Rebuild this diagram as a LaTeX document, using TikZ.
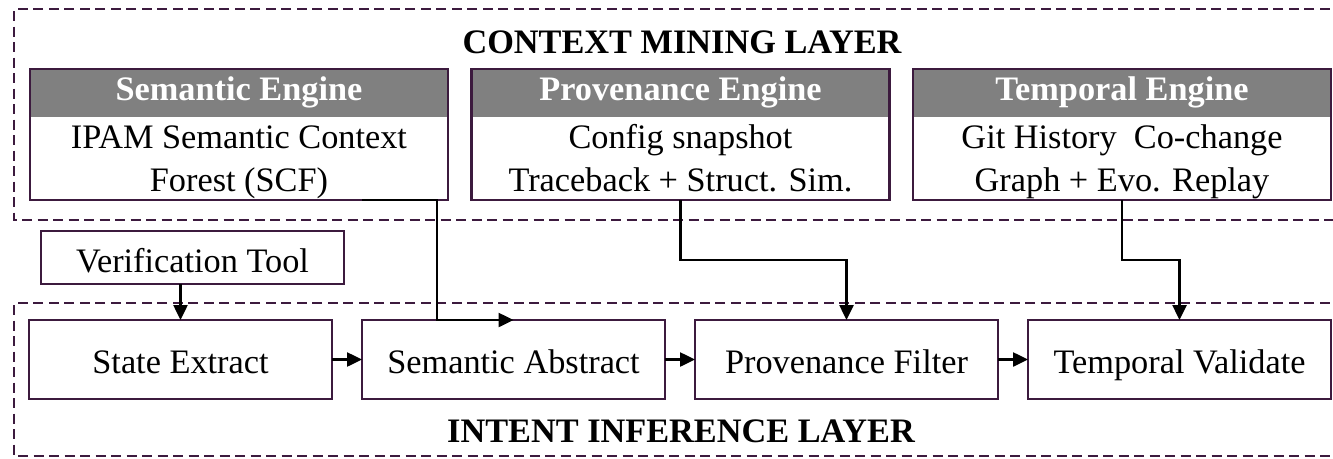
\documentclass[tikz,border=0pt]{standalone}
\usepackage{fontspec}
\setmainfont{Liberation Serif}
\usetikzlibrary{arrows.meta,fit}
\definecolor{frame}{RGB}{60,26,62}
\definecolor{headgray}{RGB}{128,128,128}

\begin{document}
\begin{tikzpicture}[x=1pt,y=-1pt,
  every node/.style={inner sep=0pt,outer sep=0pt},
  txt/.style={font=\fontsize{34.3}{43}\selectfont},
  btxt/.style={font=\fontsize{34.3}{43}\selectfont\bfseries},
  layer/.style={draw=frame,line width=2.6pt,dash pattern=on 10pt off 5.5pt},
  enghead/.style={btxt,fill=headgray,text=white,minimum width=418pt,minimum height=48pt,
    text height=23pt,text depth=8pt},
  engbody/.style={minimum width=418pt,minimum height=83pt},
  engtext/.style={txt,align=center},
  engframe/.style={draw=frame,line width=2.5pt,fit=#1},
  stage/.style={txt,draw=frame,line width=2.5pt,fill=white,minimum width=303pt,minimum height=79pt,
    text height=34pt,text depth=7pt},
  link/.style={draw=black,line width=2.5pt,-{Triangle[length=15pt,width=14pt]}},
  laytitle/.style={btxt,anchor=base}
]
\useasboundingbox (0,0) rectangle (1333,458);

% layer frames (open on the right)
\draw[layer] (1345,9) -- (14,9) -- (14,220) -- (1345,220);
\draw[layer] (1345,303) -- (14,303) -- (14,456) -- (1345,456);

\node[laytitle] (ctxtitle) at (682,53) {CONTEXT MINING LAYER};
\node[laytitle] (inftitle) at (681,442) {INTENT INFERENCE LAYER};

% context mining engines: grey header, body, frame around both
\node[enghead] (semh) at (239,93) {Semantic Engine};
\node[engbody] (semb) at (239,158.5) {};
\node[engtext] (semt) at (239,161) {\strut IPAM Semantic Context\\Forest (SCF)\strut};
\node[engframe={(semh)(semb)}] (sem) {};

\node[enghead] (provh) at (680.5,93) {Provenance Engine};
\node[engbody] (provb) at (680.5,158.5) {};
\node[engtext] (provt) at (680.5,161) {\strut Config snapshot\\Traceback + Struct. Sim.\strut};
\node[engframe={(provh)(provb)}] (prov) {};

\node[enghead] (temph) at (1122,93) {Temporal Engine};
\node[engbody] (tempb) at (1122,158.5) {};
\node[engtext] (tempt) at (1122,161) {\strut Git History\ \ Co-change\\Graph + Evo. Replay\strut};
\node[engframe={(temph)(tempb)}] (temp) {};

% verification tool
\node[txt,draw=frame,line width=2.5pt,minimum width=303pt,minimum height=53pt,
  text height=36pt,text depth=7pt] (verif) at (192.5,257.5) {Verification Tool};

% intent inference stages
\node[stage] (state) at (180.5,359.5) {State Extract};
\node[stage] (semabs) at (513.5,359.5) {Semantic Abstract};
\node[stage] (provfilt) at (846.5,359.5) {Provenance Filter};
\node[stage] (tempval) at (1179.5,359.5) {Temporal Validate};

% connectors
\coordinate (semdrop) at (437,200);
\coordinate (provbend) at (prov.south |- 0,260);
\coordinate (tempbend) at (temp.south |- 0,260);

\draw[link] (verif.south -| state.north) -- (state.north);
\draw[link] (state.east) -- (semabs.west);
\draw[link] (semabs.east) -- (provfilt.west);
\draw[link] (provfilt.east) -- (tempval.west);

\draw[link] (sem.south -| semabs.west) -- (semdrop) |- (semabs.north);
\draw[link] (prov.south) -- (provbend) -| (provfilt.north);
\draw[link] (temp.south) -- (tempbend) -| (tempval.north);
\end{tikzpicture}
\end{document}
